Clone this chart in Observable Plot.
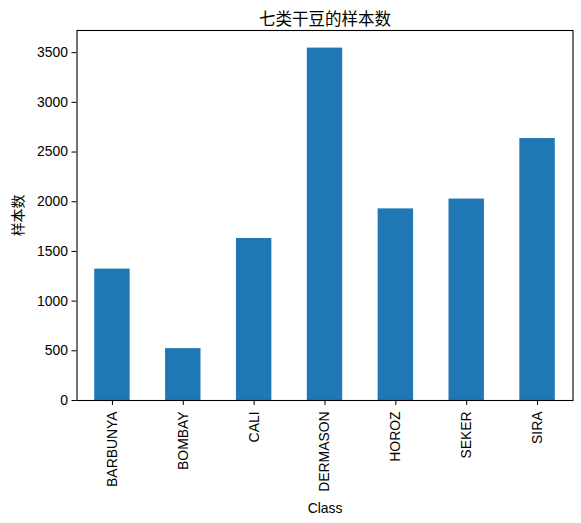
<!DOCTYPE html>
<html><head><meta charset="utf-8">
<script src="https://cdn.jsdelivr.net/npm/d3@7"></script>
<script src="https://cdn.jsdelivr.net/npm/@observablehq/plot@0.6"></script>
<style>body{margin:0;background:#fff}</style>
</head><body><div id="chart"></div>
<script>
const classes = ["BARBUNYA","BOMBAY","CALI","DERMASON","HOROZ","SEKER","SIRA"];
const counts = [1322, 522, 1630, 3546, 1928, 2027, 2636];
const yTicks = [0,500,1000,1500,2000,2500,3000,3500];
const title = "七类干豆的样本数";
const data = classes.map((c,i)=>({Class:c, n:counts[i]}));
const font = "'Liberation Sans','Noto Sans CJK SC',sans-serif";
const chart = Plot.plot({
  width: 581, height: 523,
  marginLeft: 76.5, marginRight: 8.5, marginTop: 30, marginBottom: 123,
  style: {fontFamily: font, fontSize: "13.9px", color: "#000", background: "#fff"},
  x: {domain: classes, paddingInner: 0.5, paddingOuter: 0.25, align: 0.5, round: false},
  y: {domain: [0, 3723]},
  marks: [
    Plot.barY(data, {x: "Class", y: "n", fill: "#1f77b4"}),
    Plot.frame({stroke: "#000", strokeWidth: 1.1}),
    Plot.axisY({ticks: yTicks, tickSize: 5, tickPadding: 4, tickFormat: d=>String(d), label: "样本数", labelAnchor: "center", labelArrow: "none", labelOffset: 64, fontSize: "13.9px"}),
    Plot.axisX({tickSize: 5, tickPadding: 6, tickRotate: -90, label: "Class", labelAnchor: "center", labelArrow: "none", labelOffset: 112, fontSize: "13.9px"}),
    Plot.text([title], {frameAnchor: "top", dy: -17, text: d=>d, fontSize: 16.5, fill: "#000", fontFamily: font})
  ]
});
document.getElementById("chart").appendChild(chart);
</script></body></html>
